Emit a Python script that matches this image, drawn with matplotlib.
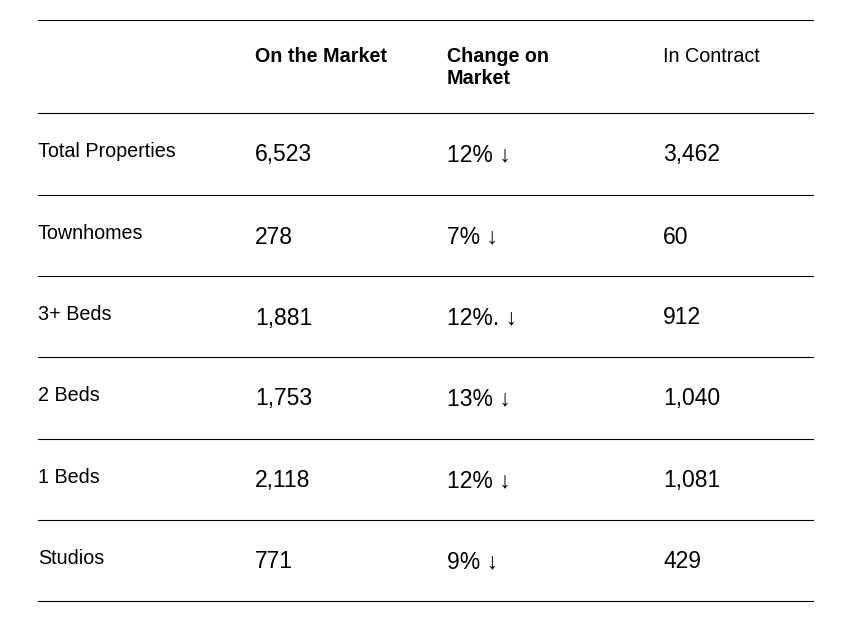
import matplotlib.pyplot as plt

# table contents
categories = ['Total Properties', 'Townhomes', '3+ Beds', '2 Beds', '1 Beds', 'Studios']
on_market = ['6,523', '278', '1,881', '1,753', '2,118', '771']
change_on_market = ['12%', '7%', '12%.', '13%', '12%', '9%']
in_contract = ['3,462', '60', '912', '1,040', '1,081', '429']
headers = ['On the Market', 'Change on\nMarket', 'In Contract']

plt.rcParams['font.family'] = ['Liberation Sans', 'DejaVu Sans']

W, H = 846, 625
fig = plt.figure(figsize=(W / 100, H / 100), dpi=100)
fig.set_facecolor('white')
ax = fig.add_axes([0, 0, 1, 1])
ax.set_xlim(0, W)
ax.set_ylim(H, 0)
ax.axis('off')

# layout in pixels
x_left, x_right = 38, 813
col_x = [38, 255, 447, 663]
top_line = 20
row_tops = [113, 195, 276, 357, 439, 520]
bottom_line = 601

label_size = 14.2
value_size = 16.5

# horizontal rules
for y in [top_line] + row_tops + [bottom_line]:
    ax.plot([x_left, x_right], [y, y], color='black', lw=0.8)

# header
head_lines = headers[1].split('\n')
ax.text(col_x[1], 62.5, headers[0], fontsize=label_size, fontweight='bold', va='baseline')
ax.text(col_x[2], 62.5, head_lines[0], fontsize=label_size, fontweight='bold', va='baseline')
ax.text(col_x[2], 84, head_lines[1], fontsize=label_size, fontweight='bold', va='baseline')
ax.text(col_x[3], 62.5, headers[2], fontsize=label_size, va='baseline')

# rows
for top, cat, om, ch, ic in zip(row_tops, categories, on_market, change_on_market, in_contract):
    ax.text(col_x[0], top + 43.7, cat, fontsize=label_size, va='baseline')
    ax.text(col_x[1], top + 48.5, om, fontsize=value_size, va='baseline')
    ax.text(col_x[2], top + 48.5, ch + ' \u2193', fontsize=value_size, va='baseline')
    ax.text(col_x[3], top + 48.5, ic, fontsize=value_size, va='baseline')

plt.savefig('out.png', dpi=100)
